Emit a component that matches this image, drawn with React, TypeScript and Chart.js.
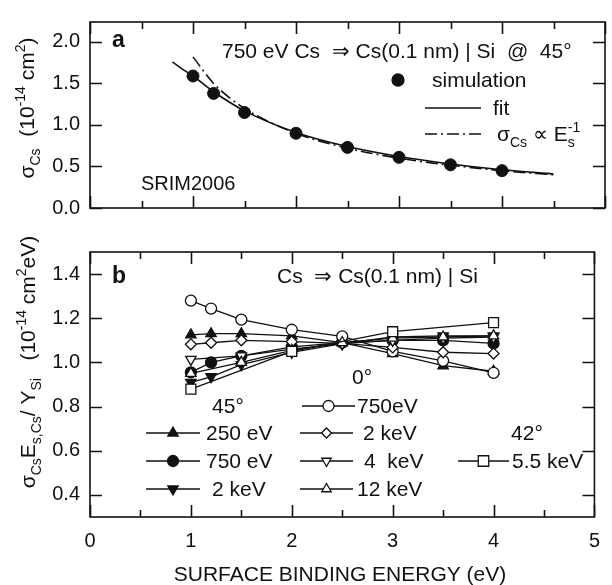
import React, { useEffect, useRef } from 'react';
import { Chart, registerables } from 'chart.js';
Chart.register(...registerables);

// ---------- Panel a data ----------
const simX = [1, 1.2, 1.5, 2, 2.5, 3, 3.5, 4];
const simY = [1.59, 1.38, 1.15, 0.9, 0.73, 0.61, 0.52, 0.45];
const fitX = [0.8, 0.9, 1, 1.2, 1.5, 2, 2.5, 3, 3.5, 4, 4.5];
const fitY = [1.76, 1.67, 1.59, 1.4, 1.17, 0.91, 0.74, 0.62, 0.53, 0.46, 0.41];
const invX = [1, 1.2, 1.5, 2, 2.5, 3, 3.5, 4, 4.5];
const invY = [1.82, 1.5, 1.2, 0.9, 0.72, 0.6, 0.515, 0.45, 0.4];

// ---------- Panel b data ----------
const bX = [1, 1.2, 1.5, 2, 2.5, 3, 3.5, 4];
const y250eV45 = [1.125, 1.13, 1.13, 1.12, 1.09, 1.04, 0.985, 0.96];
const y750eV45 = [0.955, 1.0, 1.03, 1.07, 1.09, 1.1, 1.1, 1.086];
const y2keV45 = [0.91, 0.935, 0.99, 1.045, 1.085, 1.115, 1.12, 1.12];
const y750eV0 = [1.28, 1.244, 1.194, 1.148, 1.118, 1.05, 1.007, 0.953];
const y2keV0 = [1.082, 1.089, 1.1, 1.094, 1.086, 1.068, 1.046, 1.04];
const bX2 = [1, 1.5, 2, 2.5, 3, 3.5, 4];
const y4keV0 = [1.014, 1.03, 1.06, 1.085, 1.1, 1.11, 1.115];
const y12keV0 = [0.95, 1.0, 1.055, 1.09, 1.11, 1.115, 1.12];
const bX3 = [1, 2, 3, 4];
const y55keV42 = [0.879, 1.05, 1.139, 1.18];

// ---------- ticks ----------
const xMajor = [0, 1, 2, 3, 4, 5];
const xMinor = [0.5, 1.5, 2.5, 3.5, 4.5];
const yTicksA = [0, 0.5, 1, 1.5, 2];
const yTicksB = [0.4, 0.6, 0.8, 1.0, 1.2, 1.4];

const FONT = '"Liberation Sans", Arial, Helvetica, sans-serif';
const INK = '#111';

type Part = { t: string; k?: 'sub' | 'sup'; back?: boolean };

function partFont(size: number, k?: string) {
  return `${k ? Math.round(size * 0.68) : size}px ${FONT}`;
}
function richWidth(ctx: CanvasRenderingContext2D, parts: Part[], size: number) {
  let w = 0;
  let last = 0;
  for (const p of parts) {
    ctx.font = partFont(size, p.k);
    const pw = ctx.measureText(p.t).width;
    if (p.back) {
      w = w - last + Math.max(last, pw);
      last = Math.max(last, pw);
    } else {
      w += pw;
      last = pw;
    }
  }
  return w;
}
function drawRich(ctx: CanvasRenderingContext2D, parts: Part[], x: number, y: number, size: number, align: 'left' | 'center' = 'left') {
  const w = richWidth(ctx, parts, size);
  let cx = align === 'center' ? x - w / 2 : x;
  ctx.textAlign = 'left';
  ctx.textBaseline = 'alphabetic';
  let prevX = cx;
  let last = 0;
  for (const p of parts) {
    ctx.font = partFont(size, p.k);
    const pw = ctx.measureText(p.t).width;
    const dy = p.k === 'sub' ? size * 0.3 : p.k === 'sup' ? -size * 0.42 : 0;
    if (p.back) {
      ctx.fillText(p.t, prevX, y + dy);
      cx = prevX + Math.max(last, pw);
      last = Math.max(last, pw);
    } else {
      ctx.fillText(p.t, cx, y + dy);
      prevX = cx;
      cx += pw;
      last = pw;
    }
  }
}

function drawMarker(ctx: CanvasRenderingContext2D, style: string, x: number, y: number, r: number, filled: boolean) {
  ctx.save();
  ctx.beginPath();
  if (style === 'circle') {
    ctx.arc(x, y, r, 0, Math.PI * 2);
  } else if (style === 'tri' || style === 'triDown') {
    const s = style === 'tri' ? 1 : -1;
    for (let i = 0; i < 3; i++) {
      const a = (i * 2 * Math.PI) / 3;
      const px = x + Math.sin(a) * r;
      const py = y - s * Math.cos(a) * r;
      if (i === 0) ctx.moveTo(px, py);
      else ctx.lineTo(px, py);
    }
    ctx.closePath();
  } else if (style === 'diamond') {
    ctx.moveTo(x, y - r);
    ctx.lineTo(x + r, y);
    ctx.lineTo(x, y + r);
    ctx.lineTo(x - r, y);
    ctx.closePath();
  } else if (style === 'square') {
    const h = r * 0.75;
    ctx.rect(x - h, y - h, 2 * h, 2 * h);
  }
  ctx.fillStyle = filled ? INK : '#fff';
  ctx.fill();
  ctx.strokeStyle = INK;
  ctx.lineWidth = 1.3;
  ctx.stroke();
  ctx.restore();
}

function framePlugin(yMajor: number[]) {
  return {
    id: 'frame' + yMajor.length,
    afterDraw(chart: any) {
      const { ctx, chartArea: a, scales } = chart;
      const xs = scales.x;
      const ys = scales.y;
      ctx.save();
      ctx.strokeStyle = INK;
      ctx.lineWidth = 1.6;
      ctx.strokeRect(a.left, a.top, a.right - a.left, a.bottom - a.top);
      ctx.beginPath();
      for (const v of xMajor) {
        const px = Math.round(xs.getPixelForValue(v)) + 0.5;
        ctx.moveTo(px, a.bottom);
        ctx.lineTo(px, a.bottom - 12);
        ctx.moveTo(px, a.top);
        ctx.lineTo(px, a.top + 12);
      }
      for (const v of xMinor) {
        const px = Math.round(xs.getPixelForValue(v)) + 0.5;
        ctx.moveTo(px, a.bottom);
        ctx.lineTo(px, a.bottom - 7);
        ctx.moveTo(px, a.top);
        ctx.lineTo(px, a.top + 7);
      }
      for (const v of yMajor) {
        const py = Math.round(ys.getPixelForValue(v)) + 0.5;
        ctx.moveTo(a.left, py);
        ctx.lineTo(a.left + 12, py);
        ctx.moveTo(a.right, py);
        ctx.lineTo(a.right - 12, py);
      }
      ctx.stroke();
      ctx.restore();
    },
  };
}

const pts = (xs: number[], ys: number[]) => xs.map((x, i) => ({ x, y: ys[i] }));

const textPluginA = {
  id: 'textA',
  afterDraw(chart: any) {
    const ctx: CanvasRenderingContext2D = chart.ctx;
    ctx.save();
    ctx.fillStyle = INK;
    ctx.font = `bold 23px ${FONT}`;
    ctx.textAlign = 'left';
    ctx.textBaseline = 'alphabetic';
    ctx.fillText('a', 112, 47);
    drawRich(ctx, [{ t: '750 eV Cs  \u21D2 Cs(0.1 nm) | Si  @  45\u00B0' }], 222, 58, 21);
    // legend
    drawMarker(ctx, 'circle', 398, 80, 6, true);
    drawRich(ctx, [{ t: 'simulation' }], 432, 87, 21);
    ctx.strokeStyle = INK;
    ctx.lineWidth = 1.6;
    ctx.beginPath();
    ctx.moveTo(425, 108);
    ctx.lineTo(481, 108);
    ctx.stroke();
    drawRich(ctx, [{ t: 'fit' }], 493, 115, 21);
    ctx.setLineDash([12, 4, 2, 4]);
    ctx.beginPath();
    ctx.moveTo(425, 134);
    ctx.lineTo(481, 134);
    ctx.stroke();
    ctx.setLineDash([]);
    drawRich(
      ctx,
      [{ t: '\u03C3' }, { t: 'Cs', k: 'sub' }, { t: ' \u221D E' }, { t: 's', k: 'sub' }, { t: '-1', k: 'sup', back: true }],
      497,
      141,
      21
    );
    drawRich(ctx, [{ t: 'SRIM2006' }], 141, 190, 20);
    // y title
    ctx.translate(34, 108);
    ctx.rotate(-Math.PI / 2);
    drawRich(
      ctx,
      [{ t: '\u03C3' }, { t: 'Cs', k: 'sub' }, { t: '  (10' }, { t: '-14', k: 'sup' }, { t: ' cm' }, { t: '2', k: 'sup' }, { t: ')' }],
      0,
      0,
      21,
      'center'
    );
    ctx.restore();
  },
};

const textPluginB = {
  id: 'textB',
  afterDraw(chart: any) {
    const ctx: CanvasRenderingContext2D = chart.ctx;
    const o = 230;
    ctx.save();
    ctx.fillStyle = INK;
    ctx.font = `bold 23px ${FONT}`;
    ctx.textAlign = 'left';
    ctx.textBaseline = 'alphabetic';
    ctx.fillText('b', 112, 283 - o);
    drawRich(ctx, [{ t: 'Cs  \u21D2 Cs(0.1 nm) | Si' }], 277, 283 - o, 21);
    drawRich(ctx, [{ t: '0\u00B0' }], 362, 384 - o, 21, 'center');
    drawRich(ctx, [{ t: '45\u00B0' }], 228, 413 - o, 21, 'center');
    drawRich(ctx, [{ t: '42\u00B0' }], 527, 440 - o, 21, 'center');

    const sample = (x0: number, x1: number, y: number, style: string, filled: boolean, r: number) => {
      ctx.strokeStyle = INK;
      ctx.lineWidth = 1.5;
      ctx.beginPath();
      ctx.moveTo(x0, y);
      ctx.lineTo(x1, y);
      ctx.stroke();
      drawMarker(ctx, style, (x0 + x1) / 2, y, r, filled);
    };
    const rows = [433, 461, 489];
    sample(302, 355, 406 - o, 'circle', false, 5.5);
    drawRich(ctx, [{ t: '750eV' }], 357, 413 - o, 21);

    sample(146, 200, rows[0] - o, 'tri', true, 6);
    drawRich(ctx, [{ t: '250 eV' }], 206, rows[0] + 7 - o, 21);
    sample(146, 200, rows[1] - o, 'circle', true, 5.5);
    drawRich(ctx, [{ t: '750 eV' }], 206, rows[1] + 7 - o, 21);
    sample(146, 200, rows[2] - o, 'triDown', true, 6);
    drawRich(ctx, [{ t: '2 keV' }], 212, rows[2] + 7 - o, 21);

    sample(300, 353, rows[0] - o, 'diamond', false, 5);
    drawRich(ctx, [{ t: '2 keV' }], 363, rows[0] + 7 - o, 21);
    sample(300, 353, rows[1] - o, 'triDown', false, 5.5);
    drawRich(ctx, [{ t: '4  keV' }], 364, rows[1] + 7 - o, 21);
    sample(300, 353, rows[2] - o, 'tri', false, 5.5);
    drawRich(ctx, [{ t: '12 keV' }], 357, rows[2] + 7 - o, 21);

    sample(458, 509, rows[1] - o, 'square', false, 7);
    drawRich(ctx, [{ t: '5.5 keV' }], 512, rows[1] + 7 - o, 21);

    drawRich(ctx, [{ t: 'SURFACE BINDING ENERGY (eV)' }], 340, 581 - o, 21, 'center');

    ctx.translate(35, 362 - o);
    ctx.rotate(-Math.PI / 2);
    drawRich(
      ctx,
      [
        { t: '\u03C3' },
        { t: 'Cs', k: 'sub' },
        { t: 'E' },
        { t: 's,Cs', k: 'sub' },
        { t: '/ Y' },
        { t: 'Si', k: 'sub' },
        { t: '   (10' },
        { t: '-14', k: 'sup' },
        { t: ' cm' },
        { t: '2', k: 'sup' },
        { t: 'eV)' },
      ],
      0,
      0,
      21,
      'center'
    );
    ctx.restore();
  },
};

function yScale(min: number, max: number, ticks: number[]) {
  return {
    type: 'linear',
    min,
    max,
    afterFit: (s: any) => {
      s.width = 90;
    },
    afterBuildTicks: (s: any) => {
      s.ticks = ticks.map((v) => ({ value: v }));
    },
    grid: { display: false, drawTicks: false },
    border: { display: false },
    ticks: {
      padding: 10,
      color: INK,
      font: { family: FONT, size: 20 },
      callback: (v: any) => Number(v).toFixed(1),
    },
  };
}

function series(xs: number[], ys: number[], style: string, rot: number, filled: boolean, r: number) {
  return {
    data: pts(xs, ys),
    showLine: true,
    borderColor: INK,
    borderWidth: 1.3,
    pointStyle: style,
    rotation: rot,
    pointRadius: r,
    pointBorderWidth: 1.3,
    pointBorderColor: INK,
    pointBackgroundColor: filled ? INK : '#fff',
  };
}

export default function App() {
  const refA = useRef<HTMLCanvasElement>(null);
  const refB = useRef<HTMLCanvasElement>(null);

  useEffect(() => {
    const ca = new Chart(refA.current as HTMLCanvasElement, {
      type: 'scatter',
      data: {
        datasets: [
          {
            data: pts(fitX, fitY),
            showLine: true,
            borderColor: INK,
            borderWidth: 1.6,
            pointRadius: 0,
            cubicInterpolationMode: 'monotone',
          },
          {
            data: pts(invX, invY),
            showLine: true,
            borderColor: INK,
            borderWidth: 1.6,
            borderDash: [12, 4, 2, 4],
            pointRadius: 0,
            cubicInterpolationMode: 'monotone',
          },
          {
            data: pts(simX, simY),
            showLine: false,
            pointRadius: 6,
            pointBackgroundColor: INK,
            pointBorderColor: INK,
          },
        ],
      } as any,
      options: {
        responsive: false,
        animation: false,
        devicePixelRatio: 1,
        layout: { padding: { left: 0, right: 4, top: 12, bottom: 13 } },
        plugins: { legend: { display: false }, tooltip: { enabled: false } },
        scales: {
          x: { type: 'linear', min: 0, max: 5, display: false },
          y: yScale(0, 2.24, yTicksA),
        } as any,
      },
      plugins: [framePlugin(yTicksA), textPluginA],
    } as any);

    const cb = new Chart(refB.current as HTMLCanvasElement, {
      type: 'scatter',
      data: {
        datasets: [
          series(bX3, y55keV42, 'rect', 0, false, 7),
          series(bX2, y12keV0, 'triangle', 0, false, 6),
          series(bX2, y4keV0, 'triangle', 180, false, 6),
          series(bX, y2keV0, 'rectRot', 0, false, 5.5),
          series(bX, y750eV0, 'circle', 0, false, 5.5),
          series(bX, y2keV45, 'triangle', 180, true, 6),
          series(bX, y750eV45, 'circle', 0, true, 5.5),
          series(bX, y250eV45, 'triangle', 0, true, 6),
        ],
      } as any,
      options: {
        responsive: false,
        animation: false,
        devicePixelRatio: 1,
        layout: { padding: { left: 0, right: 4, top: 7, bottom: 0 } },
        plugins: { legend: { display: false }, tooltip: { enabled: false } },
        scales: {
          x: {
            type: 'linear',
            min: 0,
            max: 5,
            afterFit: (s: any) => {
              s.height = 68;
            },
            afterBuildTicks: (s: any) => {
              s.ticks = xMajor.map((v) => ({ value: v }));
            },
            grid: { display: false, drawTicks: false },
            border: { display: false },
            ticks: {
              padding: 12,
              color: INK,
              maxRotation: 0,
              font: { family: FONT, size: 20 },
              callback: (v: any) => String(v),
            },
          },
          y: yScale(0.3, 1.5, yTicksB),
        } as any,
      },
      plugins: [framePlugin(yTicksB), textPluginB],
    } as any);

    return () => {
      ca.destroy();
      cb.destroy();
    };
  }, []);

  return (
    <div style={{ position: 'absolute', left: 0, top: 0, width: 612, height: 585, background: '#fff' }}>
      <canvas
        ref={refA}
        width={612}
        height={230}
        style={{ position: 'absolute', left: 0, top: 0, width: 612, height: 230 }}
      />
      <canvas
        ref={refB}
        width={612}
        height={355}
        style={{ position: 'absolute', left: 0, top: 230, width: 612, height: 355 }}
      />
    </div>
  );
}
